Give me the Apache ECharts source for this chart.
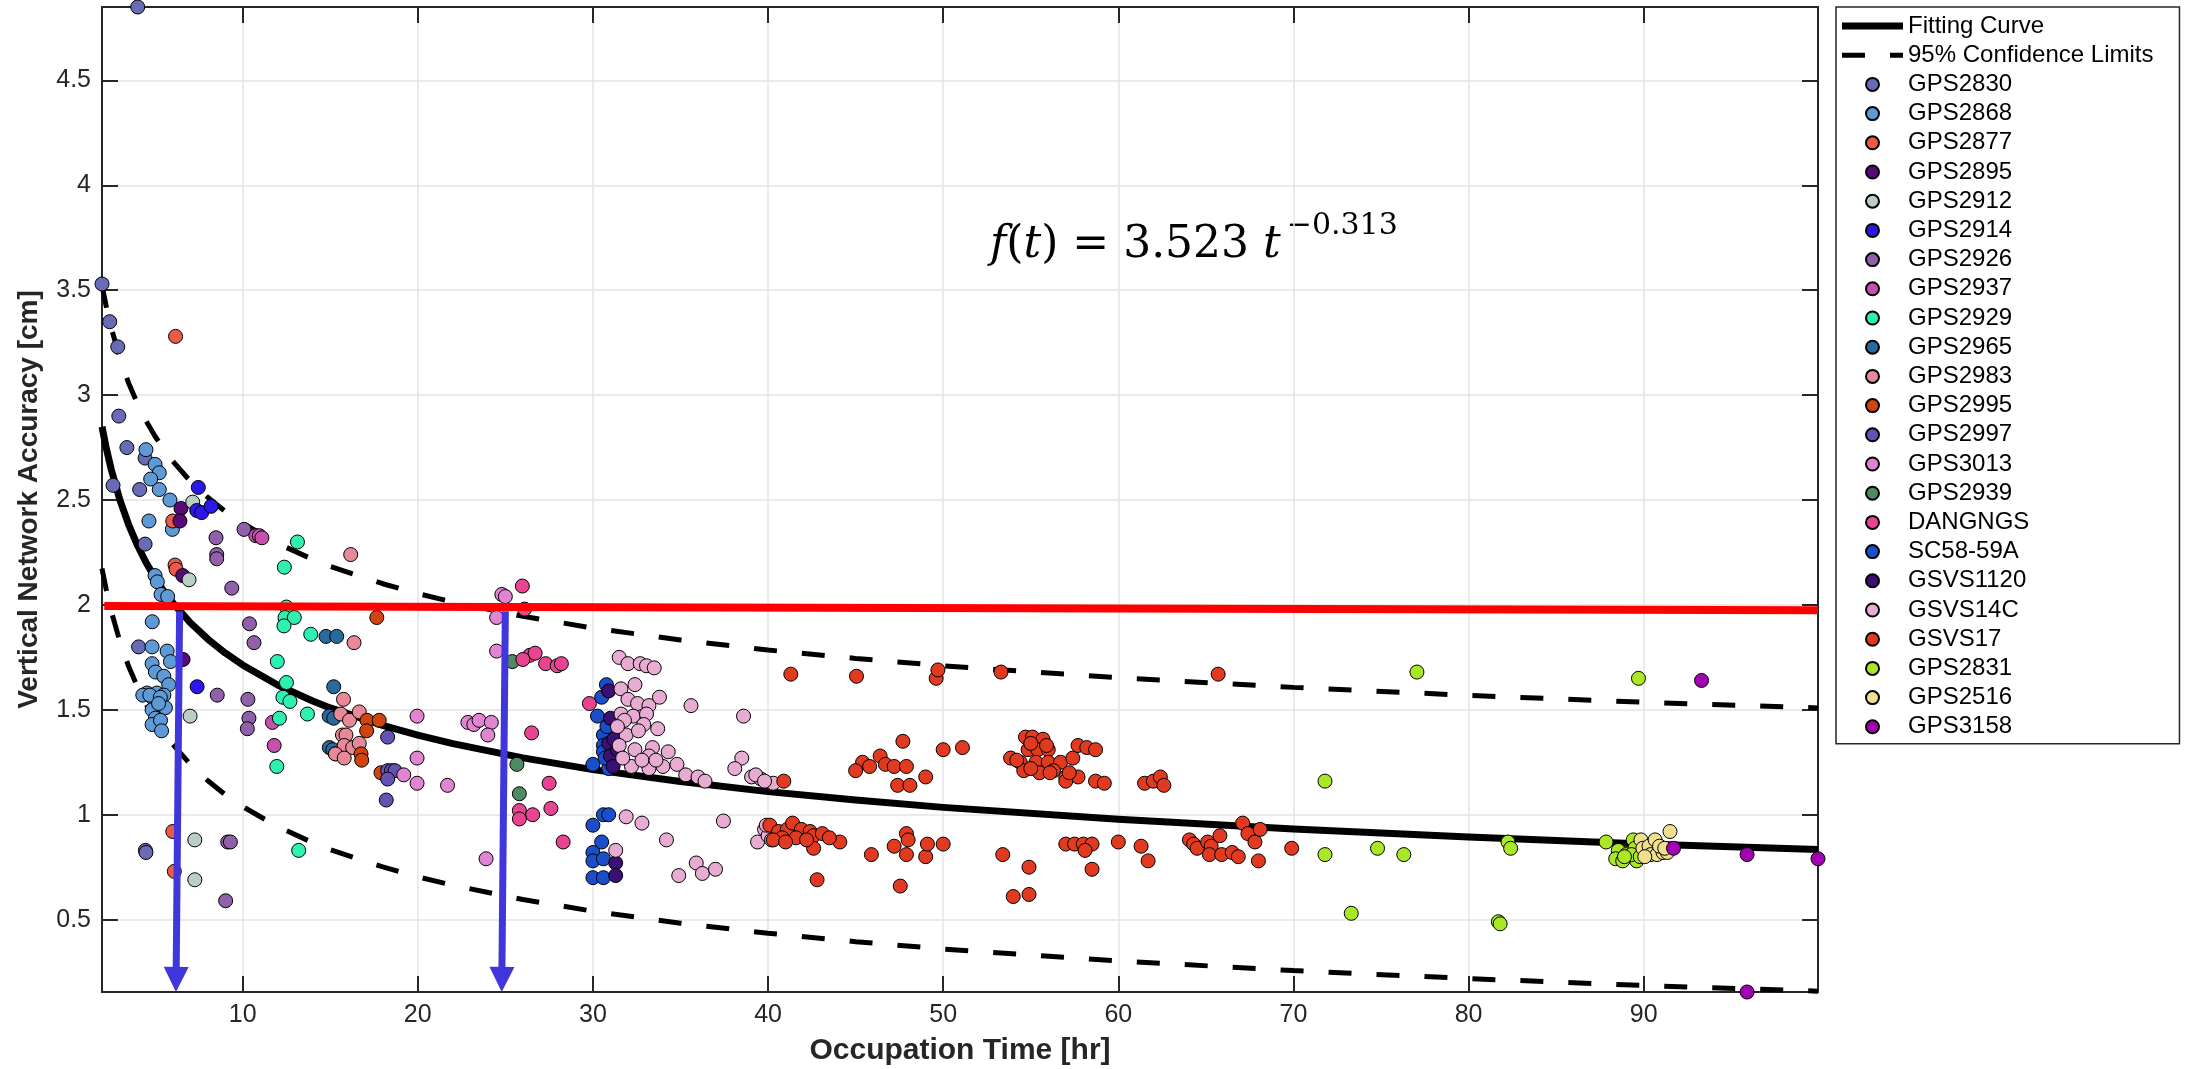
<!DOCTYPE html>
<html>
<head>
<meta charset="utf-8">
<title>Vertical Network Accuracy vs Occupation Time</title>
<script src="https://cdn.jsdelivr.net/npm/echarts@6/dist/echarts.min.js"></script>
<style>
  html, body { margin: 0; padding: 0; background: #fff; }
  #chart { width: 2198px; height: 1069px; }
</style>
</head>
<body>
<div id="chart"></div>
<script>
// ---------------- data ----------------
var FONT = '"Liberation Sans", Arial, Helvetica, sans-serif';

// axis limits (tight to the data)
var xLimits = [1.97, 99.95];
var yLimits = [0.155, 4.85];

// fitted curve f(t) = 3.523 t^-0.313 and its 95% limits, sampled
var fitT       = [1.97, 2.2, 2.5, 3, 3.5, 4, 4.5, 5, 5.5, 6, 7, 8, 9, 10, 12, 14, 15, 18, 20, 22, 26, 30, 35, 40, 45, 50, 60, 70, 80, 90, 99.95];
var fitValue   = [2.849, 2.753, 2.645, 2.498, 2.380, 2.283, 2.200, 2.129, 2.066, 2.011, 1.916, 1.838, 1.771, 1.714, 1.618, 1.542, 1.509, 1.426, 1.379, 1.339, 1.271, 1.215, 1.158, 1.110, 1.070, 1.035, 0.978, 0.932, 0.894, 0.861, 0.834];
var upperValue = [3.524, 3.428, 3.320, 3.173, 3.055, 2.958, 2.875, 2.804, 2.741, 2.686, 2.591, 2.513, 2.446, 2.389, 2.293, 2.217, 2.184, 2.101, 2.054, 2.014, 1.946, 1.890, 1.833, 1.785, 1.745, 1.710, 1.653, 1.607, 1.569, 1.536, 1.509];
var lowerValue = [2.174, 2.078, 1.970, 1.823, 1.705, 1.608, 1.525, 1.454, 1.391, 1.336, 1.241, 1.163, 1.096, 1.039, 0.943, 0.867, 0.834, 0.751, 0.704, 0.664, 0.596, 0.540, 0.483, 0.435, 0.395, 0.360, 0.303, 0.257, 0.219, 0.186, 0.159];

// 2 cm requirement line and the two read-off arrows
var thresholdLine = [[2.1, 1.995], [99.95, 1.975]];
var arrowLines = [
    [[6.4, 1.97], [6.2, 0.215]],
    [[25.0, 1.97], [24.8, 0.215]]
];

// stations: [occupation time hr, accuracy cm]
var gps2830 = [[4.01,4.85],[1.97,3.53],[2.41,3.35],[2.87,3.23],[2.93,2.90],[3.39,2.75],[2.6,2.57],[4.12,2.55],[4.43,2.70],[4.43,2.29],[4.06,1.80],[4.45,0.83],[4.48,0.82]];
var gps2868 = [[4.48,2.74],[5.0,2.67],[5.24,2.63],[4.75,2.60],[5.24,2.55],[5.85,2.50],[4.65,2.40],[5.99,2.36],[5.0,2.14],[5.13,2.11],[5.34,2.05],[5.72,2.04],[4.84,1.92],[4.83,1.80],[5.69,1.78],[5.88,1.73],[4.83,1.72],[5.02,1.68],[5.5,1.66],[5.78,1.62],[4.54,1.58],[5.11,1.58],[5.5,1.57],[4.93,1.55],[5.59,1.51],[4.83,1.50],[5.02,1.46],[4.83,1.43],[5.31,1.45],[5.37,1.40],[4.3,1.57],[4.7,1.57],[5.3,1.56],[5.2,1.53]];
var gps2877 = [[6.17,3.28],[6.01,2.40],[6.14,2.19],[6.2,2.17],[6.01,0.92],[6.1,0.73]];
var gps2895 = [[6.48,2.46],[6.42,2.40],[6.58,2.14],[6.6,1.74]];
var gps2912 = [[7.15,2.49],[6.94,2.12],[7.0,1.47],[7.27,0.88],[7.27,0.69]];
var gps2914 = [[7.47,2.56],[7.38,2.45],[7.66,2.44],[8.2,2.47],[7.4,1.61]];
var gps2926 = [[8.48,2.32],[8.52,2.24],[8.52,2.22],[9.38,2.08],[10.08,2.36],[10.39,1.91],[10.65,1.82],[8.55,1.57],[10.3,1.55],[10.36,1.46],[10.27,1.41],[9.15,0.87],[9.3,0.87],[9.03,0.59]];
var gps2937 = [[10.75,2.33],[10.95,2.33],[11.1,2.32],[11.7,1.44],[11.8,1.33]];
var gps2929 = [[13.13,2.30],[12.38,2.18],[12.5,1.99],[12.42,1.94],[12.95,1.94],[12.36,1.90],[13.89,1.86],[11.98,1.73],[12.5,1.63],[12.3,1.56],[12.7,1.54],[12.1,1.46],[11.95,1.23],[13.7,1.48],[13.2,0.83]];
var gps2965 = [[14.76,1.85],[15.37,1.85],[15.2,1.61],[14.94,1.47],[15.2,1.46],[14.95,1.32],[15.15,1.31],[15.3,1.29]];
var gps2983 = [[16.17,2.24],[16.36,1.82],[15.76,1.55],[15.6,1.48],[16.1,1.45],[16.66,1.49],[15.7,1.38],[15.9,1.38],[15.8,1.33],[16.28,1.32],[16.66,1.34],[15.3,1.29],[15.8,1.27]];
var gps2995 = [[17.66,1.94],[17.1,1.45],[17.8,1.45],[17.08,1.40],[16.76,1.29],[16.8,1.26],[17.9,1.20]];
var gps2997 = [[18.28,1.37],[18.28,1.21],[18.5,1.21],[18.7,1.21],[18.28,1.17],[18.2,1.07]];
var gps3013 = [[19.2,1.19],[19.96,1.47],[19.96,1.27],[19.96,1.15],[21.7,1.14],[23.9,0.79],[22.86,1.44],[23.2,1.43],[23.5,1.45],[24.2,1.44],[24.0,1.38],[24.5,1.78],[24.5,1.94],[24.8,2.05],[25.0,2.04]];
var gps2939 = [[25.4,1.73],[25.66,1.24],[25.8,1.10]];
var dangngs = [[25.97,2.09],[26.1,1.98],[26.4,1.76],[26.7,1.77],[26.0,1.74],[27.3,1.72],[27.96,1.71],[28.2,1.72],[26.5,1.39],[27.5,1.15],[25.8,1.02],[26.56,1.0],[25.8,0.98],[27.6,1.03],[28.3,0.87],[29.8,1.53]];
var sc5859a = [[30.77,1.62],[30.5,1.56],[30.26,1.47],[30.6,1.38],[30.6,1.33],[30.6,1.30],[30.0,1.24],[30.9,1.22],[30.6,1.00],[30.9,1.00],[30.0,0.95],[30.5,0.87],[30.0,0.82],[30.0,0.78],[30.6,0.79],[30.0,0.70],[30.6,0.70],[30.8,1.42],[30.7,1.27]];
var gsvs1120 = [[30.9,1.59],[31.0,1.46],[30.9,1.34],[31.0,1.28],[31.15,1.23],[31.3,0.77],[31.3,0.71],[31.2,1.36],[31.4,1.31]];
var gsvs14c = [[31.5,1.75],[32.0,1.72],[32.7,1.72],[33.06,1.71],[33.5,1.70],[32.4,1.62],[31.6,1.60],[32.0,1.55],[32.55,1.53],[33.2,1.52],[33.8,1.56],[31.6,1.48],[32.3,1.47],[33.06,1.48],[32.9,1.43],[33.7,1.41],[31.9,1.38],[31.5,1.33],[32.4,1.31],[33.4,1.32],[34.3,1.30],[33.2,1.28],[34.0,1.23],[34.8,1.24],[35.3,1.19],[36.0,1.18],[36.4,1.16],[35.6,1.52],[38.6,1.47],[38.5,1.27],[38.1,1.22],[39.06,1.18],[39.6,1.17],[40.3,1.15],[31.9,0.99],[32.8,0.96],[34.2,0.88],[37.45,0.97],[35.9,0.77],[36.25,0.72],[34.9,0.71],[37.0,0.74],[31.3,0.83],[39.4,0.87],[32.2,1.23],[33.2,1.22],[31.8,1.45],[32.6,1.40],[31.7,1.27],[32.8,1.26],[33.6,1.26],[31.4,1.42],[39.8,0.93],[40.0,0.90],[40.2,0.88],[39.9,0.95],[39.3,1.19],[39.8,1.16]];
var gsvs17 = [[41.3,1.67],[45.05,1.66],[49.6,1.65],[49.7,1.69],[53.3,1.68],[65.7,1.67],
    [47.7,1.35],[46.4,1.28],[45.4,1.25],[45.8,1.23],[45.0,1.21],[46.7,1.24],[47.2,1.23],[47.9,1.23],[47.4,1.14],[48.1,1.14],[49.0,1.18],[50.0,1.31],[51.1,1.32],[40.9,1.16],
    [54.7,1.37],[55.1,1.37],[55.7,1.36],[54.85,1.31],[55.4,1.31],[56.0,1.31],[53.85,1.27],[54.4,1.25],[55.3,1.25],[56.0,1.25],[56.7,1.25],[57.4,1.27],[54.6,1.21],[55.5,1.20],[56.3,1.21],[57.0,1.18],[57.7,1.18],[57.0,1.16],[57.7,1.33],[58.2,1.32],[58.7,1.31],[58.7,1.16],[59.2,1.15],[61.5,1.15],[62.0,1.16],[62.4,1.18],[62.6,1.14],[55.0,1.34],[55.9,1.33],[54.2,1.26],[55.0,1.22],[56.1,1.20],[57.2,1.20],
    [40.1,0.95],[40.6,0.92],[41.1,0.93],[41.4,0.96],[41.9,0.93],[42.4,0.92],[42.6,0.90],[43.1,0.91],[41.6,0.89],[40.8,0.89],[40.3,0.88],[44.1,0.87],[42.6,0.84],[42.8,0.69],[43.5,0.89],[42.2,0.88],[41.0,0.87],
    [45.9,0.81],[47.2,0.85],[47.9,0.91],[48.0,0.88],[47.9,0.81],[47.55,0.66],[49.0,0.80],[49.1,0.86],[50.0,0.86],[53.4,0.81],[54.9,0.75],[54.0,0.61],[54.9,0.62],[57.0,0.86],[57.5,0.86],[58.0,0.86],[58.5,0.86],[58.1,0.83],[58.5,0.74],[60.0,0.87],[61.3,0.85],[61.7,0.78],
    [64.06,0.88],[64.3,0.86],[64.5,0.84],[65.1,0.87],[65.3,0.85],[65.8,0.90],[65.2,0.81],[65.9,0.81],[66.5,0.82],[66.85,0.80],[67.1,0.96],[67.4,0.91],[67.8,0.87],[68.1,0.93],[68.0,0.78],[69.9,0.84]];
var gps2831 = [[77.05,1.68],[71.8,1.16],[71.8,0.81],[74.8,0.84],[76.3,0.81],[73.3,0.53],[81.7,0.49],[81.8,0.48],[82.25,0.87],[82.4,0.84],[89.7,1.65],[87.85,0.87],[88.55,0.83],[88.4,0.79],[88.8,0.78],[89.0,0.81],[89.4,0.88],[89.5,0.84],[89.6,0.78],[89.3,0.81],[88.9,0.80],[89.8,0.80]];
var gps2516 = [[89.84,0.88],[89.95,0.84],[90.3,0.85],[90.65,0.88],[90.4,0.81],[90.76,0.81],[91.1,0.82],[91.35,0.82],[91.5,0.92],[90.06,0.80],[90.9,0.85],[91.2,0.84]];
var gps3158 = [[93.3,1.64],[91.7,0.84],[95.9,0.81],[95.9,0.155],[99.95,0.79]];

var stationNames = ['GPS2830','GPS2868','GPS2877','GPS2895','GPS2912','GPS2914','GPS2926','GPS2937','GPS2929','GPS2965','GPS2983','GPS2995','GPS2997','GPS3013','GPS2939','DANGNGS','SC58-59A','GSVS1120','GSVS14C','GSVS17','GPS2831','GPS2516','GPS3158'];
var stationData = [gps2830, gps2868, gps2877, gps2895, gps2912, gps2914, gps2926, gps2937, gps2929, gps2965, gps2983, gps2995, gps2997, gps3013, gps2939, dangngs, sc5859a, gsvs1120, gsvs14c, gsvs17, gps2831, gps2516, gps3158];
var stationColors = ['#6a6bb6','#5e9ad6','#ef5a48','#580a78','#b9cfc4','#2b17ea','#9160aa','#c74fae','#2ef0b3','#286a9c','#e8899a','#d2440f','#6552b5','#e384d2','#4f8a63','#e94490','#1b4fca','#3a1075','#e8acd2','#e23a20','#aae825','#f0df8e','#a202b2'];

// ---------------- helpers ----------------
function pairs(xs, ys) {
    return xs.map(function (x, i) { return [x, ys[i]]; });
}

function valueAxis(pos, limits, main) {
    return {
        type: 'value',
        position: pos,
        min: limits[0],
        max: limits[1],
        splitNumber: 10,
        axisLine: { show: true, onZero: false, lineStyle: { color: '#262626', width: 2 } },
        axisTick: { show: true, inside: true, length: 16, lineStyle: { color: '#262626', width: 2 } },
        axisLabel: {
            show: main, margin: 11, fontSize: 25, color: '#262626', fontFamily: FONT,
            showMinLabel: false, showMaxLabel: false
        },
        splitLine: { show: main, lineStyle: { color: '#e4e4e4', width: 1.5 } }
    };
}

// ---------------- chart ----------------
var chart = echarts.init(document.getElementById('chart'));

var xBottom = valueAxis('bottom', xLimits, true);
xBottom.name = 'Occupation Time [hr]';
xBottom.nameLocation = 'middle';
xBottom.nameGap = 44;
xBottom.nameTextStyle = { fontSize: 30, fontWeight: 'bold', color: '#262626', fontFamily: FONT };

var yLeft = valueAxis('left', yLimits, true);
yLeft.name = 'Vertical Network Accuracy [cm]';
yLeft.nameLocation = 'middle';
yLeft.nameGap = 59;
yLeft.nameTextStyle = { fontSize: 28, fontWeight: 'bold', color: '#262626', fontFamily: FONT };

var series = [
    {   // fitted power curve
        name: 'Fitting Curve', type: 'line', data: pairs(fitT, fitValue),
        symbol: 'none', z: 1,
        itemStyle: { color: '#000', borderWidth: 0 },
        lineStyle: { color: '#000', width: 7, join: 'round' }
    },
    {
        name: '95% Confidence Limits', type: 'line', data: pairs(fitT, upperValue),
        symbol: 'none', z: 1,
        itemStyle: { color: '#000', borderWidth: 0 },
        lineStyle: { color: '#000', width: 5, type: [23, 25] }
    },
    {
        name: '95% Confidence Limits', type: 'line', data: pairs(fitT, lowerValue),
        symbol: 'none', z: 1,
        itemStyle: { color: '#000', borderWidth: 0 },
        lineStyle: { color: '#000', width: 5, type: [23, 25] }
    }
];

stationNames.forEach(function (name, i) {
    series.push({
        name: name, type: 'scatter', data: stationData[i],
        symbol: 'circle', symbolSize: 14, z: 2,
        itemStyle: { color: stationColors[i], borderColor: '#000', borderWidth: 1, opacity: 1 }
    });
});

// red 2 cm line and blue arrows, on top of everything
var markData = [[
    { coord: thresholdLine[0], symbol: 'none', lineStyle: { color: '#ff0000', width: 8, type: 'solid' } },
    { coord: thresholdLine[1], symbol: 'none' }
]];
arrowLines.forEach(function (a) {
    markData.push([
        { coord: a[0], symbol: 'none', lineStyle: { color: '#3f36dc', width: 7, type: 'solid' } },
        { coord: a[1], symbol: 'triangle', symbolSize: 25 }
    ]);
});
series.push({
    name: 'marks', type: 'line', data: [thresholdLine[0]], symbol: 'none',
    lineStyle: { width: 0 },
    markLine: {
        silent: true, animation: false, z: 10,
        label: { show: false },
        emphasis: { disabled: true },
        data: markData
    }
});

var legendData = [
    { name: 'Fitting Curve', icon: 'path://M0,0H61V7H0Z' },
    { name: '95% Confidence Limits', icon: 'path://M0,0H23V5H0Z M48,0H61V5H48Z' }
].concat(stationNames.map(function (n) { return { name: n, icon: 'circle' }; }));

var option = {
    animation: false,
    backgroundColor: '#fff',
    grid: { left: 102, top: 7, width: 1716, height: 985, containLabel: false, outerBoundsMode: 'none' },
    xAxis: [xBottom, valueAxis('top', xLimits, false)],
    yAxis: [yLeft, valueAxis('right', yLimits, false)],
    legend: {
        orient: 'vertical', left: 1836, top: 7,
        itemWidth: 61, itemHeight: 13, itemGap: 5.2,
        padding: [7, 26, 5, 6],
        borderColor: '#262626', borderWidth: 1.5, backgroundColor: '#fff',
        selectedMode: false,
        textStyle: { fontSize: 24, lineHeight: 24, color: '#000', fontFamily: FONT },
        data: legendData
    },
    graphic: [{
        type: 'text', left: 990, top: 211, silent: true,
        style: {
            text: '{i|f}{n|(}{i|t}{n|) = 3.523 }{i|t}{s|\u22120.313}',
            rich: {
                i: { fontFamily: '"DejaVu Serif", serif', fontStyle: 'italic', fontSize: 44, lineHeight: 70, fill: '#000' },
                n: { fontFamily: '"DejaVu Serif", serif', fontSize: 44, lineHeight: 70, fill: '#000' },
                s: { fontFamily: '"DejaVu Serif", serif', fontSize: 30, lineHeight: 30, verticalAlign: 'top', fill: '#000', padding: [0, 0, 0, 6] }
            }
        }
    }],
    series: series
};

chart.setOption(option);
</script>
</body>
</html>
